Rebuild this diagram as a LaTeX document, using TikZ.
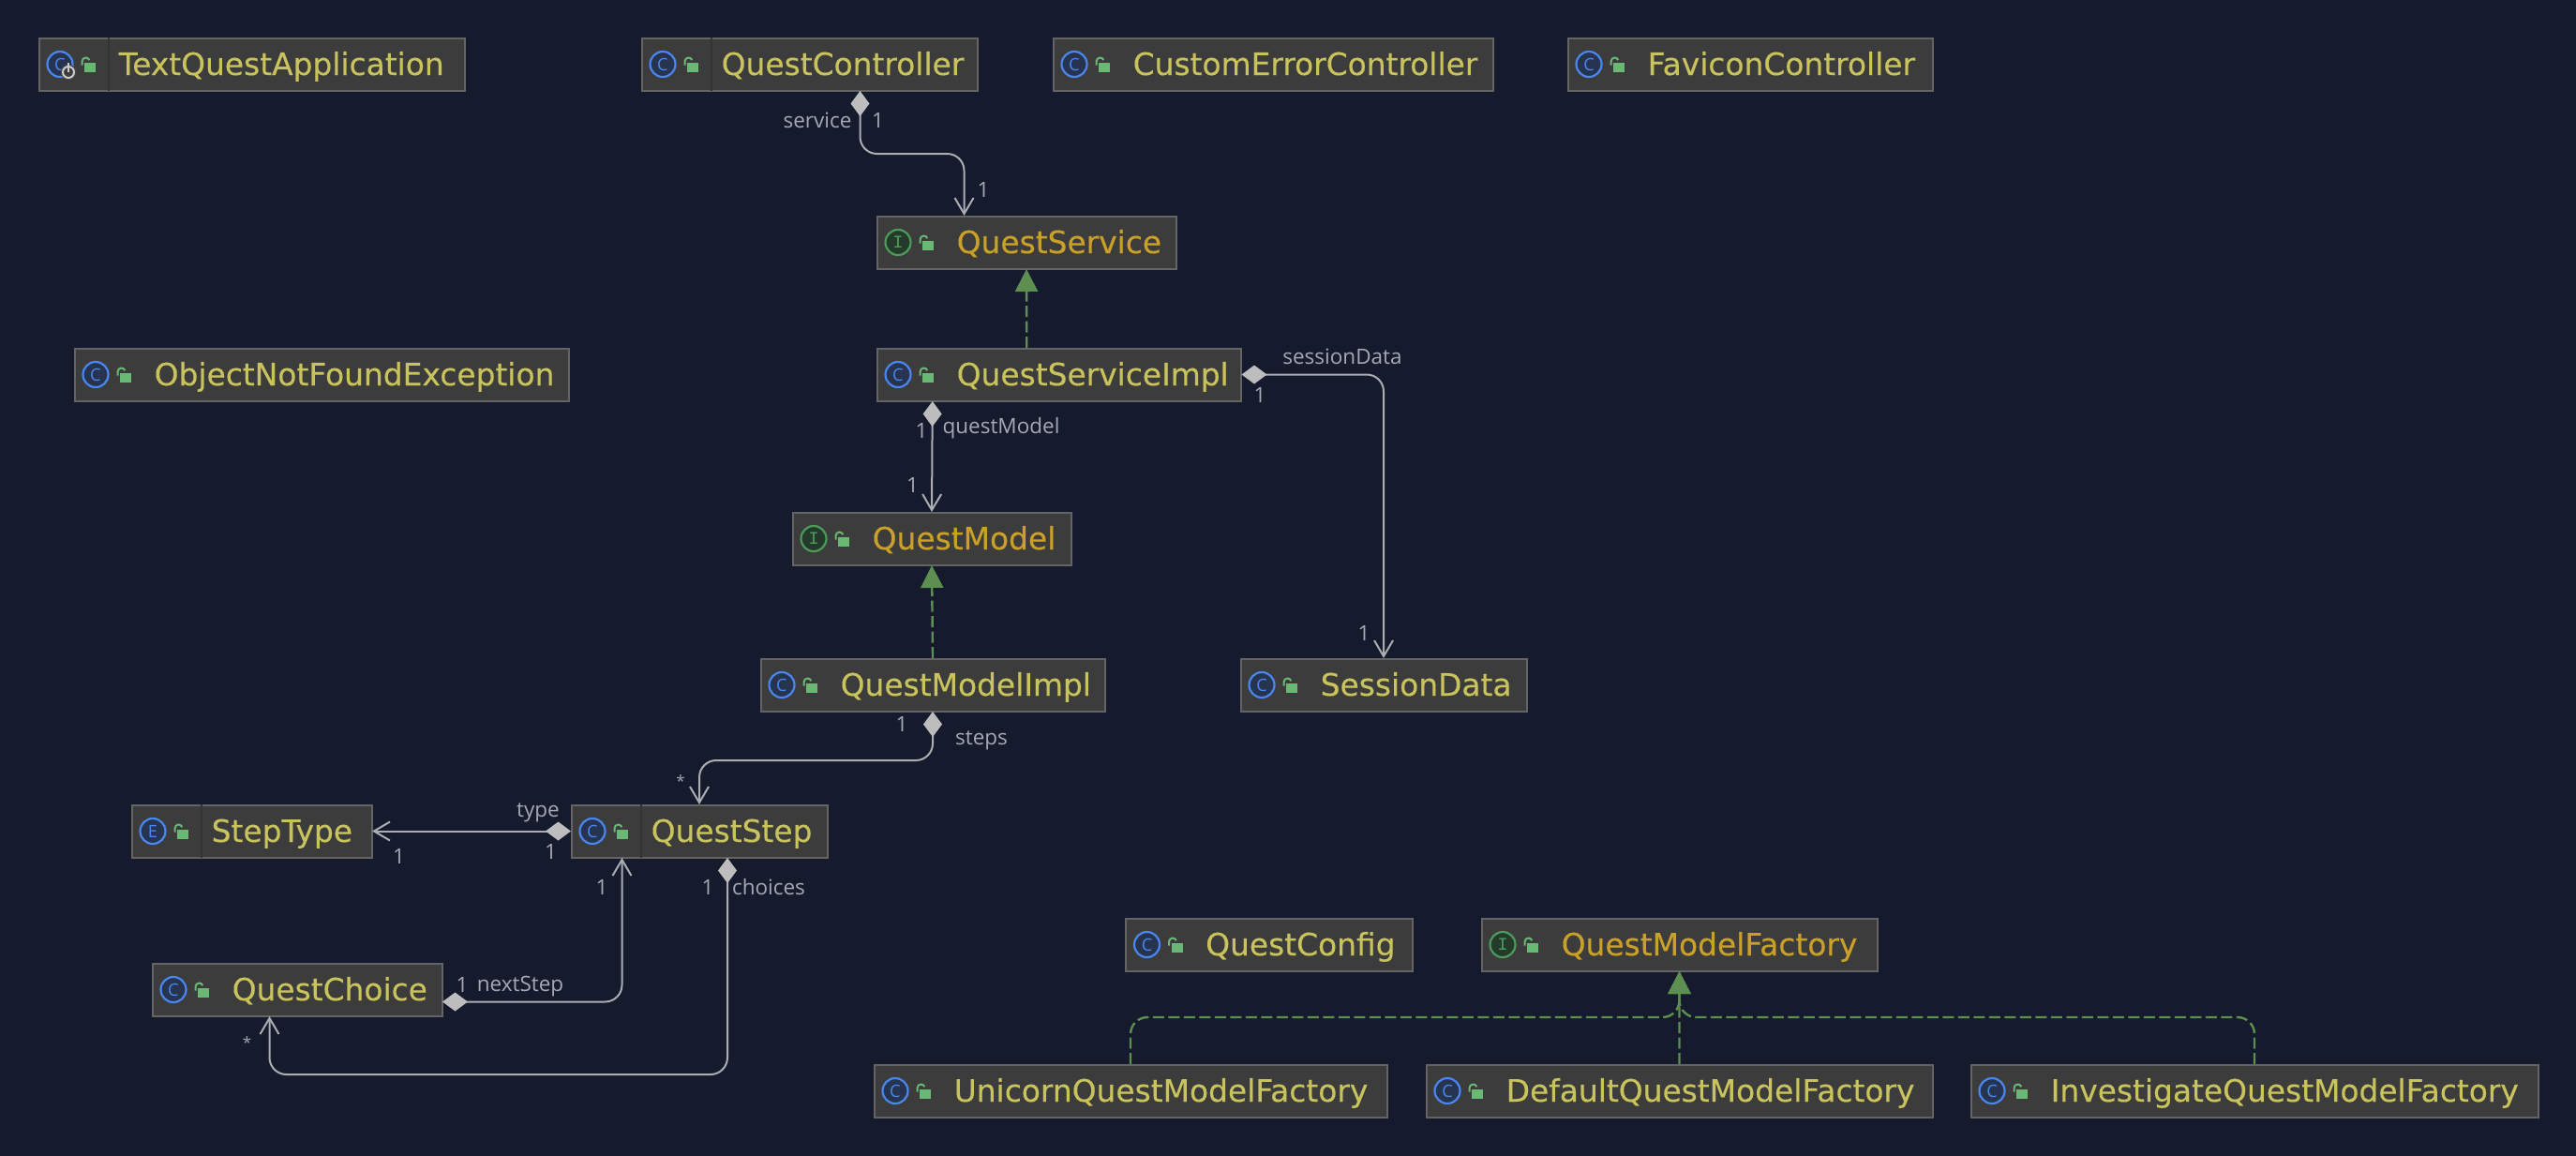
\documentclass[tikz,border=0pt]{standalone}
\usepackage{fontspec}
\setmainfont{Open Sans}
\setmonofont{Liberation Mono}
\newfontfamily\boxfont[RawFeature={embolden=0.35}]{DejaVu Sans}
\usepackage{xcolor}
\usetikzlibrary{arrows.meta, positioning}

\definecolor{canvas}{HTML}{151A2D}
\definecolor{boxfill}{HTML}{3C3C3C}
\definecolor{boxline}{HTML}{646464}
\definecolor{boxsep}{HTML}{343434}
\definecolor{classtext}{HTML}{C8C35C}
\definecolor{ifacetext}{HTML}{C9A028}
\definecolor{iconblue}{HTML}{4A86F0}
\definecolor{iconbluefill}{HTML}{27344F}
\definecolor{icongreen}{HTML}{4D9A5A}
\definecolor{icongreenfill}{HTML}{243A2B}
\definecolor{lockgreen}{HTML}{69B874}
\definecolor{linkgrey}{HTML}{ABADB3}
\definecolor{diamondgrey}{HTML}{BDBDBD}
\definecolor{labelgrey}{HTML}{A6A9B4}
\definecolor{implgreen}{HTML}{5C8F50}

\tikzset{
  classbox/.style={rectangle, draw=boxline, fill=boxfill, line width=.02cm, minimum height=.56cm, inner sep=0pt, outer sep=.005cm, anchor=north west},
  classname/.style={anchor=base west, inner sep=0pt, text=classtext, font=\boxfont\fontsize{9.35}{11}\selectfont},
  ifacename/.style={classname, text=ifacetext},
  enumname/.style={classname},
  classicon/.style={circle, draw=iconblue, fill=iconbluefill, text=iconblue, line width=.022cm, minimum size=.27cm, inner sep=0pt, font=\fontsize{5.2}{5}\selectfont},
  ifaceicon/.style={classicon, draw=icongreen, fill=icongreenfill, text=icongreen, font=\fontsize{5.4}{5}\ttfamily},
  enumicon/.style={classicon},
  lockicon/.pic={
    \fill[lockgreen] (.49,.02) rectangle (.61,-.08);
    \draw[lockgreen, line width=.02cm] (.465,-.01) -- (.465,.03) arc[start angle=180, end angle=20, radius=.04];
  },
  edgelabel/.style={inner sep=0pt, text=labelgrey, font=\fontsize{6.4}{8}\selectfont},
  manylabel/.style={edgelabel, font=\fontsize{4.8}{6}\selectfont},
  link/.style={draw=linkgrey, line width=.02cm, rounded corners=.18cm},
  hasa/.style={link, {Diamond[length=.27cm, width=.2cm, color=diamondgrey, fill=diamondgrey]}-{Straight Barb[length=.17cm, width=.2cm]}},
  implements/.style={draw=implgreen, line width=.024cm, dash pattern=on .12cm off .045cm, rounded corners=.18cm, -{Triangle[length=.24cm, width=.24cm, color=implgreen, fill=implgreen]}},
  boxsepline/.style={draw=boxsep, line width=.012cm}
}

\newcommand{\classnode}[7]{
  \node[classbox, minimum width=#4cm] (#1) at (#2,#3) {};
  \node[#5icon] (#1-icon) at ([xshift=.23cm]#1.west) {#6};
  \pic at (#1.west) {lockicon};
  \node[#5name] (#1-name) at ([xshift=.85cm, yshift=-.115cm]#1.west) {#7};
}

\begin{document}
\begin{tikzpicture}
    \useasboundingbox (0,0) rectangle (27.48,-12.32);
    \fill[canvas] (-.2,.2) rectangle (27.68,-12.52);

    \classnode{application}{.41}{-.40}{4.54}{class}{C}{TextQuestApplication}
    \classnode{controller}{6.84}{-.40}{3.58}{class}{C}{QuestController}
    \classnode{errorController}{11.23}{-.40}{4.69}{class}{C}{CustomErrorController}
    \classnode{faviconController}{16.72}{-.40}{3.89}{class}{C}{FaviconController}
    \classnode{service}{9.35}{-2.30}{3.19}{iface}{I}{QuestService}
    \classnode{exception}{.79}{-3.71}{5.27}{class}{C}{ObjectNotFoundException}
    \classnode{serviceImpl}{9.35}{-3.71}{3.885}{class}{C}{QuestServiceImpl}
    \classnode{model}{8.45}{-5.46}{2.97}{iface}{I}{QuestModel}
    \classnode{modelImpl}{8.11}{-7.02}{3.67}{class}{C}{QuestModelImpl}
    \classnode{sessionData}{13.23}{-7.02}{3.05}{class}{C}{SessionData}
    \classnode{stepType}{1.40}{-8.58}{2.56}{enum}{E}{StepType}
    \classnode{step}{6.09}{-8.58}{2.73}{class}{C}{QuestStep}
    \classnode{choice}{1.62}{-10.27}{3.09}{class}{C}{QuestChoice}
    \classnode{config}{12.005}{-9.79}{3.055}{class}{C}{QuestConfig}
    \classnode{factory}{15.80}{-9.79}{4.22}{iface}{I}{QuestModelFactory}
    \classnode{unicorn}{9.32}{-11.35}{5.47}{class}{C}{UnicornQuestModelFactory}
    \classnode{default}{15.21}{-11.35}{5.40}{class}{C}{DefaultQuestModelFactory}
    \classnode{investigate}{21.02}{-11.35}{6.05}{class}{C}{InvestigateQuestModelFactory}

    \node[circle, draw=black!70!white, fill=boxfill, line width=.005cm, minimum size=.16cm, inner sep=0pt] (runHalo) at (.73,-.77) {};
    \node[circle, draw=white!80!black, line width=.02cm, minimum size=.12cm, inner sep=0pt] (runMark) at (.73,-.77) {};
    \draw[white!80!black, line width=.018cm] (runMark.center) -- ([yshift=.03cm]runMark.north);

    \draw[boxsepline] ([xshift=.75cm]application.north west) -- ([xshift=.75cm]application.south west);
    \draw[boxsepline] ([xshift=.75cm]controller.north west) -- ([xshift=.75cm]controller.south west);
    \draw[boxsepline] ([xshift=.75cm]stepType.north west) -- ([xshift=.75cm]stepType.south west);
    \draw[boxsepline] ([xshift=.75cm]step.north west) -- ([xshift=.75cm]step.south west);

    \draw[hasa] ([xshift=.54cm]controller.south) -- ++(0,-.67) -| ([xshift=-.665cm]service.north);
    \draw[implements] ([xshift=-.345cm]serviceImpl.north) -- (service.south);
    \draw[hasa] ([xshift=-1.35cm]serviceImpl.south) -- (model.north);
    \draw[hasa] (serviceImpl.east) -| (sessionData.north);
    \draw[implements] (modelImpl.north) -- (model.south);
    \draw[hasa] (modelImpl.south) -- ++(0,-.52) -| (step.north);
    \draw[hasa] (step.west) -- (stepType.east);
    \draw[hasa] ([yshift=-.13cm]choice.east) -| ([xshift=-.825cm]step.south);
    \draw[hasa] ([xshift=.30cm]step.south) -- ++(0,-2.31) -| ([xshift=-.295cm]choice.south);
    \draw[implements] (unicorn.north) -- ++(0,.50) -| (factory.south);
    \draw[implements] (default.north) -- (factory.south);
    \draw[implements] (investigate.north) -- ++(0,.50) -| (factory.south);

    \node[edgelabel] (controllerRole) at (8.72,-1.28) {service};
    \node[edgelabel] (controllerOne) at (9.365,-1.28) {1};
    \node[edgelabel] (serviceOne) at (10.49,-2.02) {1};
    \node[edgelabel] (implOne) at (9.83,-4.59) {1};
    \node[edgelabel] (implRole) at (10.68,-4.57) {questModel};
    \node[edgelabel] (modelOne) at (9.735,-5.17) {1};
    \node[edgelabel] (sessionRole) at (14.32,-3.80) {sessionData};
    \node[edgelabel] (sessionOne) at (13.44,-4.21) {1};
    \node[edgelabel] (sessionTargetOne) at (14.55,-6.75) {1};
    \node[edgelabel] (stepsOne) at (9.62,-7.72) {1};
    \node[edgelabel] (stepsRole) at (10.47,-7.90) {steps};
    \node[manylabel] (stepsMany) at (7.26,-8.33) {*};
    \node[edgelabel] (typeRole) at (5.74,-8.67) {type};
    \node[edgelabel] (typeOne) at (5.875,-9.08) {1};
    \node[edgelabel] (stepTypeOne) at (4.255,-9.13) {1};
    \node[edgelabel] (nextOne) at (4.93,-10.50) {1};
    \node[edgelabel] (nextRole) at (5.55,-10.52) {nextStep};
    \node[edgelabel] (nextTargetOne) at (6.42,-9.46) {1};
    \node[edgelabel] (choicesOne) at (7.55,-9.46) {1};
    \node[edgelabel] (choicesRole) at (8.20,-9.46) {choices};
    \node[manylabel] (choicesMany) at (2.635,-11.12) {*};
\end{tikzpicture}
\end{document}
